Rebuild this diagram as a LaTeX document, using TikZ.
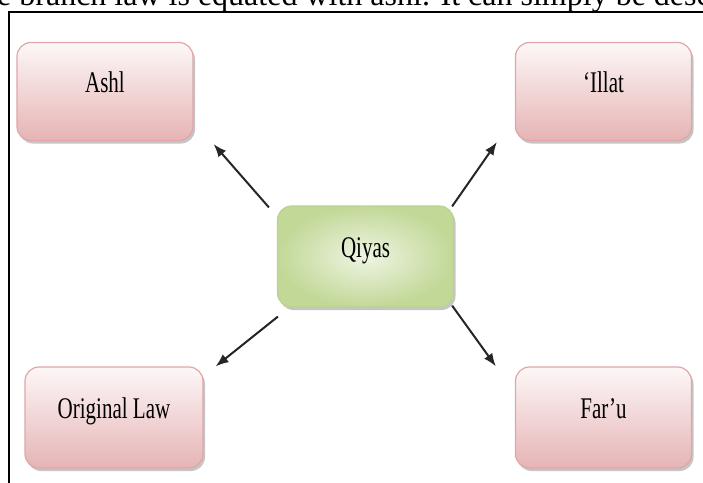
\documentclass[tikz,border=0pt]{standalone}
\usepackage{fontspec}
\setmainfont{Liberation Serif}
\usetikzlibrary{shadows,arrows.meta}
\definecolor{pinkline}{HTML}{E0A6A8}
\definecolor{pinktop}{HTML}{FDF7F7}
\definecolor{pinkbot}{HTML}{E6B4B5}
\definecolor{greenline}{HTML}{BCD28F}
\definecolor{greenin}{HTML}{EEF5E3}
\definecolor{greenout}{HTML}{C2D897}
\newcommand\squeeze[1]{\scalebox{0.7}[1]{#1}}
\tikzset{
  >={Latex[length=13pt,width=10pt]},
  x=1pt, y=-1pt,
}
\tikzstyle{conn}=[->,line width=2pt,black!85]
\tikzstyle{every node}=[font=\fontsize{30}{34}\selectfont]
\tikzstyle{boxbase}=[rounded corners=14pt,line width=1.2pt,
  minimum width=176pt,minimum height=98pt,text height=20pt,text depth=18pt,
  drop shadow={shadow xshift=2pt,shadow yshift=-3pt,fill=black!45,opacity=.5}]
\tikzstyle{pinkbox}=[boxbase,draw=pinkline,top color=pinktop,bottom color=pinkbot]
\tikzstyle{greenbox}=[boxbase,draw=greenline,inner color=greenin,outer color=greenout,
  minimum height=101pt]

\begin{document}
\begin{tikzpicture}
    \useasboundingbox (0,0) rectangle (703,482);
    % cut off line of the page above the figure
    \node[anchor=base west,inner sep=0pt,font=\fontsize{32}{36}\selectfont] (body) at (-3,5)
      {e branch law is equated with ashl. It can simply be desc};
    \draw[line width=1.5pt] (9,490) -- (9,12) -- (710,12);

    \node[pinkbox] (ashl) at (105,91.5) {\squeeze{Ashl}};
    \node[pinkbox] (illat) at (603.5,91.5) {\squeeze{`Illat}};
    \node[pinkbox,minimum width=178pt,minimum height=101pt] (orig) at (114,417.5) {\squeeze{Original Law}};
    \node[pinkbox,minimum height=101pt] (faru) at (603.5,417.5) {\squeeze{Far'u}};
    \node[greenbox] (qiyas) at (365.5,256.5) {\squeeze{Qiyas}};

    \draw[conn] ([shift={(-8,2)}]qiyas.north west) -- ([shift={(20,3)}]ashl.south east);
    \draw[conn] ([shift={(-2,1)}]qiyas.north east) -- ([shift={(-18,1)}]illat.south west);
    \draw[conn] ([shift={(1,9)}]qiyas.south west) -- ([shift={(12,0)}]orig.north east);
    \draw[conn] ([shift={(-2,-2)}]qiyas.south east) -- ([shift={(-19,0)}]faru.north west);
\end{tikzpicture}
\end{document}
